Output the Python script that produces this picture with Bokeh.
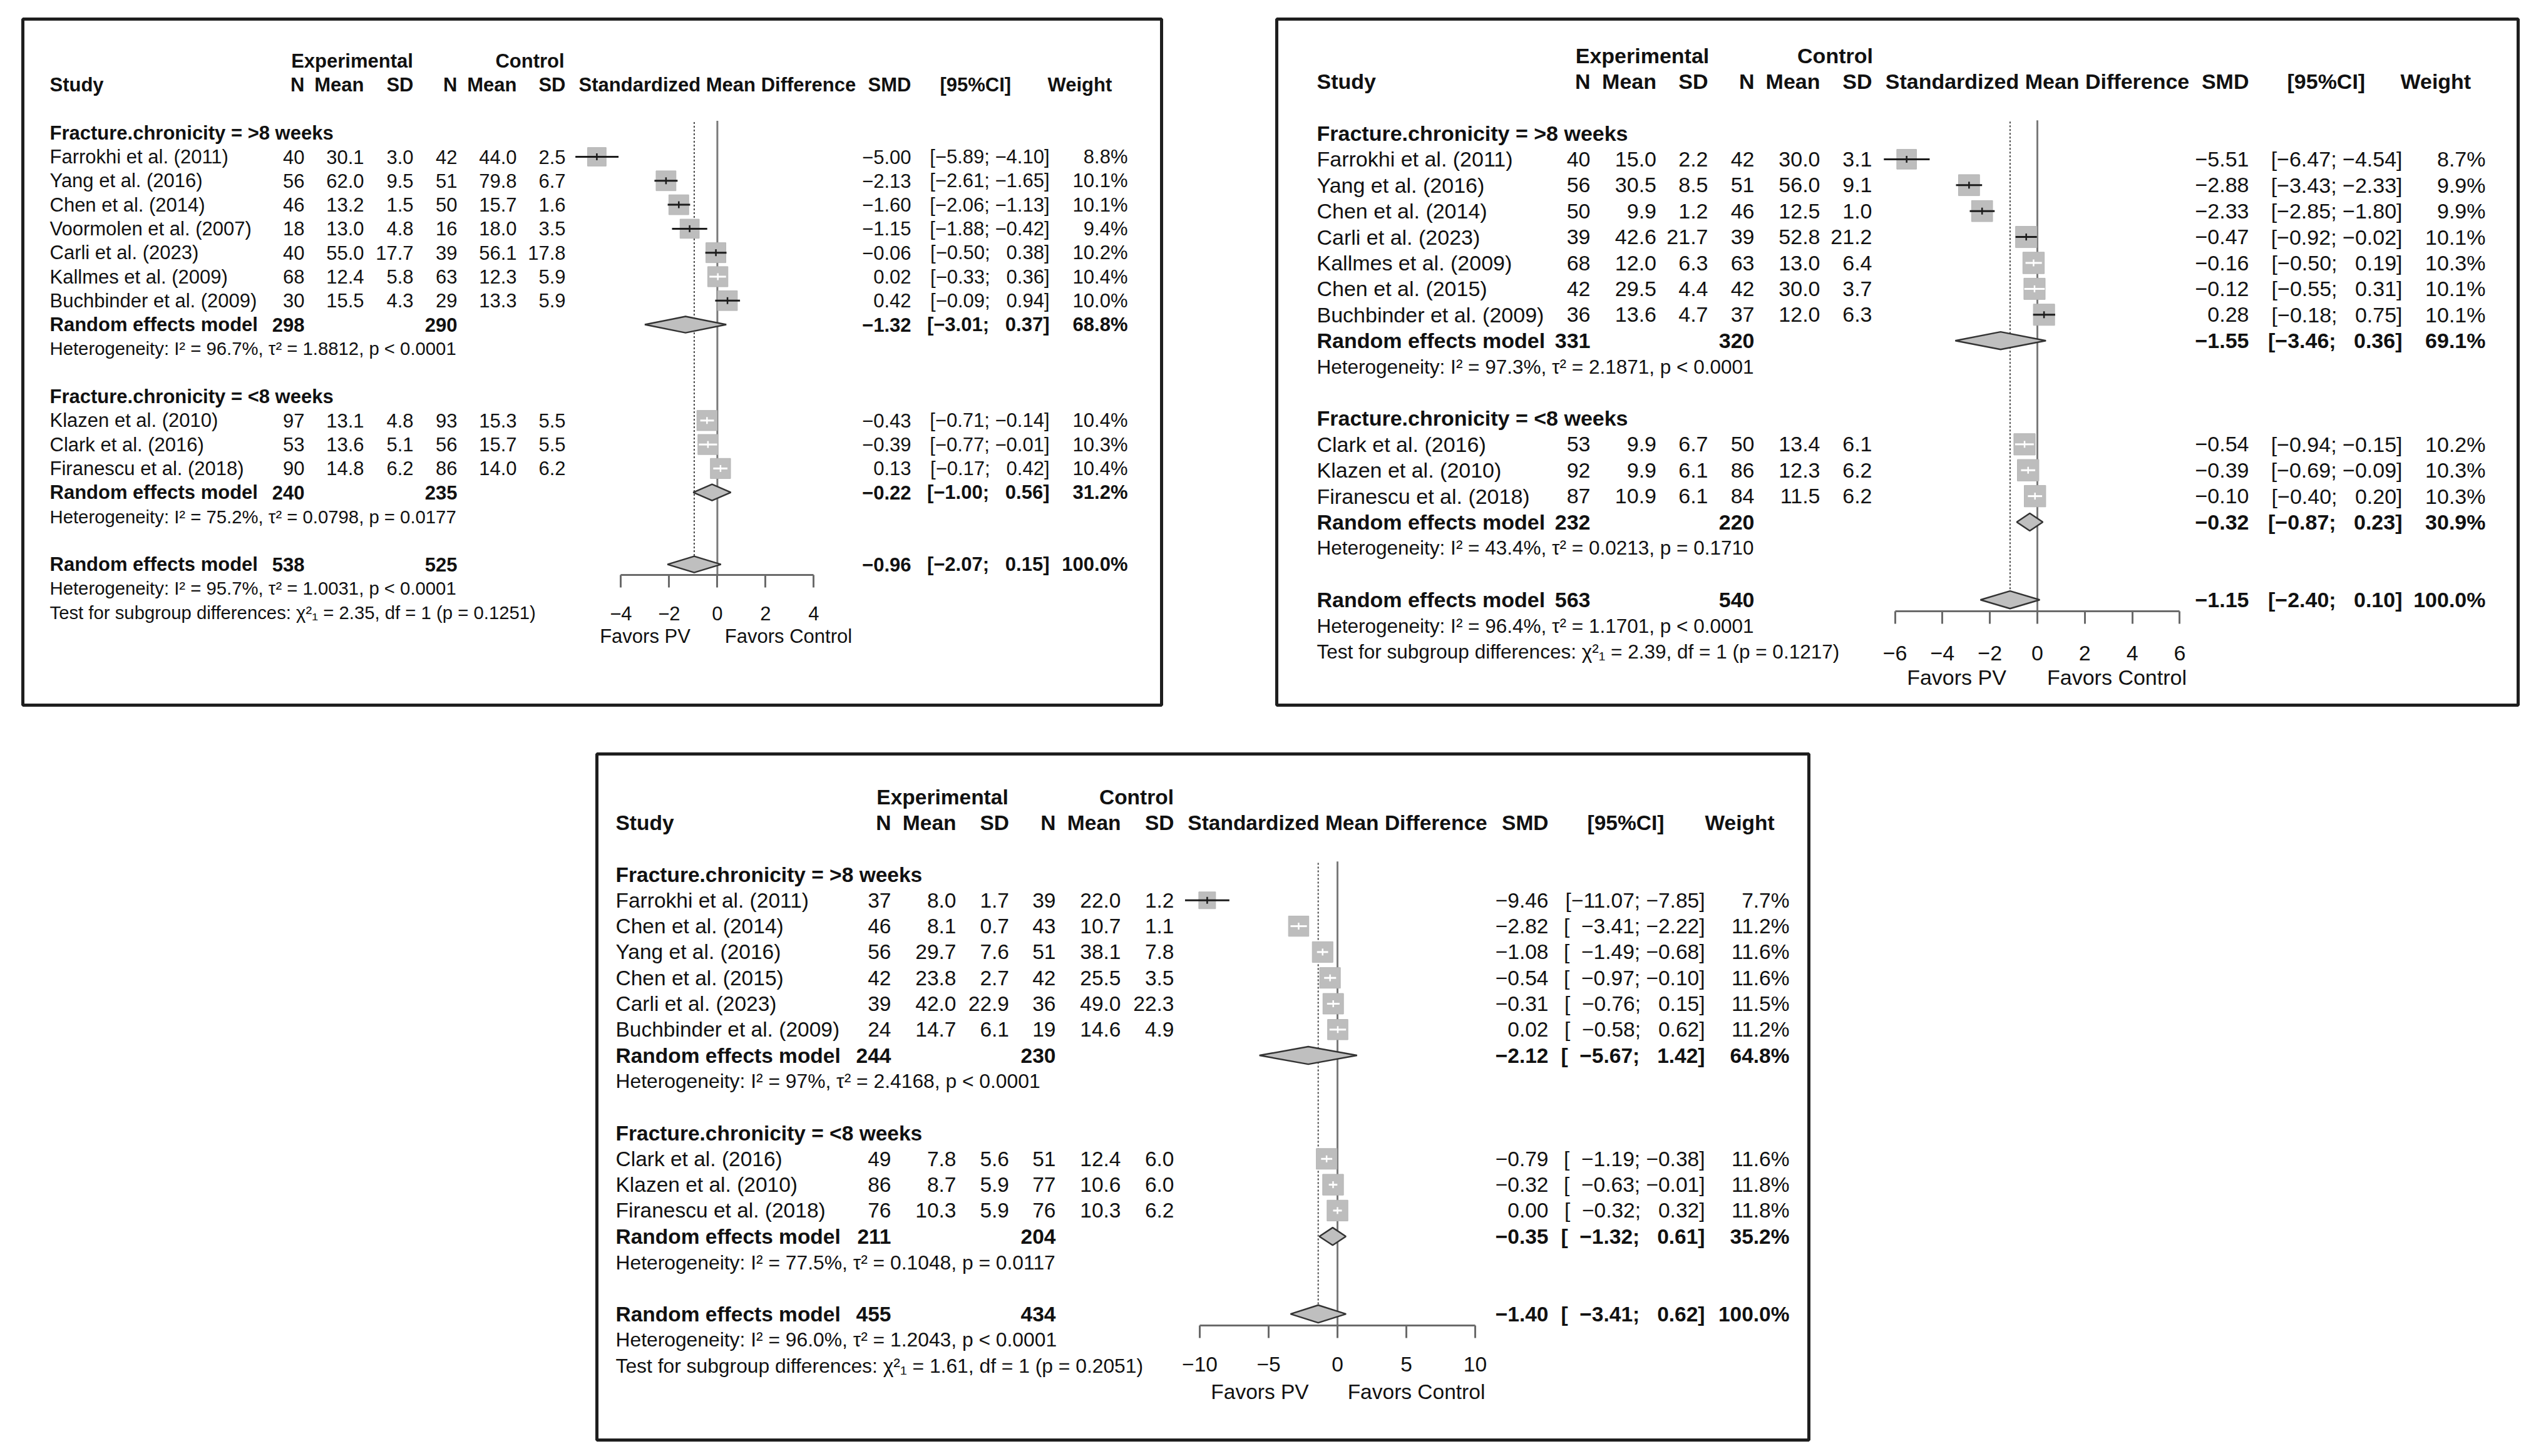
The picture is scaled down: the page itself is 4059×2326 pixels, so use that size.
import numpy as np
from bokeh.plotting import figure
from bokeh.models import Range1d, LinearAxis, FixedTicker, ColumnDataSource, Spacer
from bokeh.layouts import row, column
from bokeh.core.properties import value, field
from bokeh.embed import file_html
from bokeh.resources import INLINE

MINUS = "\u2212"
FIGSP = "\u2007"
GROUPS = ["Fracture.chronicity = >8 weeks", "Fracture.chronicity = <8 weeks"]

# ---------------- Panel A (top left) ----------------
A_g1_study = ["Farrokhi et al. (2011)", "Yang et al. (2016)", "Chen et al. (2014)", "Voormolen et al. (2007)",
              "Carli et al. (2023)", "Kallmes et al. (2009)", "Buchbinder et al. (2009)"]
A_g1_eN = [40, 56, 46, 18, 40, 68, 30]
A_g1_eMean = [30.1, 62.0, 13.2, 13.0, 55.0, 12.4, 15.5]
A_g1_eSD = [3.0, 9.5, 1.5, 4.8, 17.7, 5.8, 4.3]
A_g1_cN = [42, 51, 50, 16, 39, 63, 29]
A_g1_cMean = [44.0, 79.8, 15.7, 18.0, 56.1, 12.3, 13.3]
A_g1_cSD = [2.5, 6.7, 1.6, 3.5, 17.8, 5.9, 5.9]
A_g1_smd = [-5.00, -2.13, -1.60, -1.15, -0.06, 0.02, 0.42]
A_g1_lo = [-5.89, -2.61, -2.06, -1.88, -0.50, -0.33, -0.09]
A_g1_hi = [-4.10, -1.65, -1.13, -0.42, 0.38, 0.36, 0.94]
A_g1_w = [8.8, 10.1, 10.1, 9.4, 10.2, 10.4, 10.0]

A_g2_study = ["Klazen et al. (2010)", "Clark et al. (2016)", "Firanescu et al. (2018)"]
A_g2_eN = [97, 53, 90]
A_g2_eMean = [13.1, 13.6, 14.8]
A_g2_eSD = [4.8, 5.1, 6.2]
A_g2_cN = [93, 56, 86]
A_g2_cMean = [15.3, 15.7, 14.0]
A_g2_cSD = [5.5, 5.5, 6.2]
A_g2_smd = [-0.43, -0.39, 0.13]
A_g2_lo = [-0.71, -0.77, -0.17]
A_g2_hi = [-0.14, -0.01, 0.42]
A_g2_w = [10.4, 10.3, 10.4]

A_sub_eN = [298, 240]
A_sub_cN = [290, 235]
A_sub_smd = [-1.32, -0.22]
A_sub_lo = [-3.01, -1.00]
A_sub_hi = [0.37, 0.56]
A_sub_w = [68.8, 31.2]
A_sub_het = ["I\u00b2 = 96.7%, \u03c4\u00b2 = 1.8812, p < 0.0001", "I\u00b2 = 75.2%, \u03c4\u00b2 = 0.0798, p = 0.0177"]
A_all = [538, 525, -0.96, -2.07, 0.15, 100.0]
A_all_het = "I\u00b2 = 95.7%, \u03c4\u00b2 = 1.0031, p < 0.0001"
A_test = "\u03c7\u00b2\u2081 = 2.35, df = 1 (p = 0.1251)"
A_ticks = [-4, -2, 0, 2, 4]

# ---------------- Panel B (top right) ----------------
B_g1_study = ["Farrokhi et al. (2011)", "Yang et al. (2016)", "Chen et al. (2014)", "Carli et al. (2023)",
              "Kallmes et al. (2009)", "Chen et al. (2015)", "Buchbinder et al. (2009)"]
B_g1_eN = [40, 56, 50, 39, 68, 42, 36]
B_g1_eMean = [15.0, 30.5, 9.9, 42.6, 12.0, 29.5, 13.6]
B_g1_eSD = [2.2, 8.5, 1.2, 21.7, 6.3, 4.4, 4.7]
B_g1_cN = [42, 51, 46, 39, 63, 42, 37]
B_g1_cMean = [30.0, 56.0, 12.5, 52.8, 13.0, 30.0, 12.0]
B_g1_cSD = [3.1, 9.1, 1.0, 21.2, 6.4, 3.7, 6.3]
B_g1_smd = [-5.51, -2.88, -2.33, -0.47, -0.16, -0.12, 0.28]
B_g1_lo = [-6.47, -3.43, -2.85, -0.92, -0.50, -0.55, -0.18]
B_g1_hi = [-4.54, -2.33, -1.80, -0.02, 0.19, 0.31, 0.75]
B_g1_w = [8.7, 9.9, 9.9, 10.1, 10.3, 10.1, 10.1]

B_g2_study = ["Clark et al. (2016)", "Klazen et al. (2010)", "Firanescu et al. (2018)"]
B_g2_eN = [53, 92, 87]
B_g2_eMean = [9.9, 9.9, 10.9]
B_g2_eSD = [6.7, 6.1, 6.1]
B_g2_cN = [50, 86, 84]
B_g2_cMean = [13.4, 12.3, 11.5]
B_g2_cSD = [6.1, 6.2, 6.2]
B_g2_smd = [-0.54, -0.39, -0.10]
B_g2_lo = [-0.94, -0.69, -0.40]
B_g2_hi = [-0.15, -0.09, 0.20]
B_g2_w = [10.2, 10.3, 10.3]

B_sub_eN = [331, 232]
B_sub_cN = [320, 220]
B_sub_smd = [-1.55, -0.32]
B_sub_lo = [-3.46, -0.87]
B_sub_hi = [0.36, 0.23]
B_sub_w = [69.1, 30.9]
B_sub_het = ["I\u00b2 = 97.3%, \u03c4\u00b2 = 2.1871, p < 0.0001", "I\u00b2 = 43.4%, \u03c4\u00b2 = 0.0213, p = 0.1710"]
B_all = [563, 540, -1.15, -2.40, 0.10, 100.0]
B_all_het = "I\u00b2 = 96.4%, \u03c4\u00b2 = 1.1701, p < 0.0001"
B_test = "\u03c7\u00b2\u2081 = 2.39, df = 1 (p = 0.1217)"
B_ticks = [-6, -4, -2, 0, 2, 4, 6]

# ---------------- Panel C (bottom) ----------------
C_g1_study = ["Farrokhi et al. (2011)", "Chen et al. (2014)", "Yang et al. (2016)", "Chen et al. (2015)",
              "Carli et al. (2023)", "Buchbinder et al. (2009)"]
C_g1_eN = [37, 46, 56, 42, 39, 24]
C_g1_eMean = [8.0, 8.1, 29.7, 23.8, 42.0, 14.7]
C_g1_eSD = [1.7, 0.7, 7.6, 2.7, 22.9, 6.1]
C_g1_cN = [39, 43, 51, 42, 36, 19]
C_g1_cMean = [22.0, 10.7, 38.1, 25.5, 49.0, 14.6]
C_g1_cSD = [1.2, 1.1, 7.8, 3.5, 22.3, 4.9]
C_g1_smd = [-9.46, -2.82, -1.08, -0.54, -0.31, 0.02]
C_g1_lo = [-11.07, -3.41, -1.49, -0.97, -0.76, -0.58]
C_g1_hi = [-7.85, -2.22, -0.68, -0.10, 0.15, 0.62]
C_g1_w = [7.7, 11.2, 11.6, 11.6, 11.5, 11.2]

C_g2_study = ["Clark et al. (2016)", "Klazen et al. (2010)", "Firanescu et al. (2018)"]
C_g2_eN = [49, 86, 76]
C_g2_eMean = [7.8, 8.7, 10.3]
C_g2_eSD = [5.6, 5.9, 5.9]
C_g2_cN = [51, 77, 76]
C_g2_cMean = [12.4, 10.6, 10.3]
C_g2_cSD = [6.0, 6.0, 6.2]
C_g2_smd = [-0.79, -0.32, 0.00]
C_g2_lo = [-1.19, -0.63, -0.32]
C_g2_hi = [-0.38, -0.01, 0.32]
C_g2_w = [11.6, 11.8, 11.8]

C_sub_eN = [244, 211]
C_sub_cN = [230, 204]
C_sub_smd = [-2.12, -0.35]
C_sub_lo = [-5.67, -1.32]
C_sub_hi = [1.42, 0.61]
C_sub_w = [64.8, 35.2]
C_sub_het = ["I\u00b2 = 97%, \u03c4\u00b2 = 2.4168, p < 0.0001", "I\u00b2 = 77.5%, \u03c4\u00b2 = 0.1048, p = 0.0117"]
C_all = [455, 434, -1.40, -3.41, 0.62, 100.0]
C_all_het = "I\u00b2 = 96.0%, \u03c4\u00b2 = 1.2043, p < 0.0001"
C_test = "\u03c7\u00b2\u2081 = 1.61, df = 1 (p = 0.2051)"
C_ticks = [-10, -5, 0, 5, 10]


def grp(study, eN, eMean, eSD, cN, cMean, cSD, smd, lo, hi, w):
    return dict(study=study, eN=eN, eMean=eMean, eSD=eSD, cN=cN, cMean=cMean, cSD=cSD,
                smd=smd, lo=lo, hi=hi, w=w)


DATA_A = dict(groups=[grp(A_g1_study, A_g1_eN, A_g1_eMean, A_g1_eSD, A_g1_cN, A_g1_cMean, A_g1_cSD, A_g1_smd, A_g1_lo, A_g1_hi, A_g1_w),
                      grp(A_g2_study, A_g2_eN, A_g2_eMean, A_g2_eSD, A_g2_cN, A_g2_cMean, A_g2_cSD, A_g2_smd, A_g2_lo, A_g2_hi, A_g2_w)],
              sub=dict(eN=A_sub_eN, cN=A_sub_cN, smd=A_sub_smd, lo=A_sub_lo, hi=A_sub_hi, w=A_sub_w, het=A_sub_het),
              all=A_all, all_het=A_all_het, test=A_test, ticks=A_ticks)
DATA_B = dict(groups=[grp(B_g1_study, B_g1_eN, B_g1_eMean, B_g1_eSD, B_g1_cN, B_g1_cMean, B_g1_cSD, B_g1_smd, B_g1_lo, B_g1_hi, B_g1_w),
                      grp(B_g2_study, B_g2_eN, B_g2_eMean, B_g2_eSD, B_g2_cN, B_g2_cMean, B_g2_cSD, B_g2_smd, B_g2_lo, B_g2_hi, B_g2_w)],
              sub=dict(eN=B_sub_eN, cN=B_sub_cN, smd=B_sub_smd, lo=B_sub_lo, hi=B_sub_hi, w=B_sub_w, het=B_sub_het),
              all=B_all, all_het=B_all_het, test=B_test, ticks=B_ticks)
DATA_C = dict(groups=[grp(C_g1_study, C_g1_eN, C_g1_eMean, C_g1_eSD, C_g1_cN, C_g1_cMean, C_g1_cSD, C_g1_smd, C_g1_lo, C_g1_hi, C_g1_w),
                      grp(C_g2_study, C_g2_eN, C_g2_eMean, C_g2_eSD, C_g2_cN, C_g2_cMean, C_g2_cSD, C_g2_smd, C_g2_lo, C_g2_hi, C_g2_w)],
              sub=dict(eN=C_sub_eN, cN=C_sub_cN, smd=C_sub_smd, lo=C_sub_lo, hi=C_sub_hi, w=C_sub_w, het=C_sub_het),
              all=C_all, all_het=C_all_het, test=C_test, ticks=C_ticks)

# layout (pixel positions inside each panel box)
LAY_A = dict(W=1825, H=1102, row0=223.0, rowh=38.3, F=31, FS=29.3, standoff=30,
             study=46, eN=453, eMean=548, eSD=627, cN=697, cMean=792, cSD=870, exp_hdr=529, ctl_hdr=813,
             smd_r=1422, ci_hdr=1468, ci_r=1643, w_hdr=1640, w_r=1768, zero=1112.4, scale=38.5,
             fav_l=997, fav_r=1226, box_k=10.0)
LAY_B = dict(W=1989, H=1102, row0=226.9, rowh=41.4, F=34, FS=31.5, standoff=35,
             study=67, eN=504, eMean=609.5, eSD=692, cN=766, cMean=871, cSD=954, exp_hdr=587, ctl_hdr=895,
             smd_r=1556, ci_hdr=1617, ci_r=1801, w_hdr=1798, w_r=1934, zero=1218, scale=37.9,
             fav_l=1089, fav_r=1345, box_k=10.7)
LAY_C = dict(W=1942, H=1102, row0=236.8, rowh=41.3, F=33.5, FS=31.8, standoff=30,
             study=33, eN=473, eMean=577, eSD=661.5, cN=736, cMean=840, cSD=925, exp_hdr=555, ctl_hdr=865,
             smd_r=1523, ci_hdr=1585, ci_r=1773, w_hdr=1773, w_r=1908, zero=1186, scale=22.0,
             fav_l=1062, fav_r=1312, box_k=9.7)

FONT = "Liberation Sans"
TXT = "#111111"


def fnum(v, d=2):
    s = f"{abs(v):.{d}f}"
    return (MINUS + s) if v < 0 else s


def build(D, L):
    W, H, rh, r0 = L["W"], L["H"], L["rowh"], L["row0"]
    m = 3
    z, s = L["zero"], L["scale"]
    p = figure(width=W, height=H, x_range=Range1d(m, W - m),
               y_range=Range1d((H - m - r0) / rh, (m - r0) / rh),
               x_axis_type=None, y_axis_type=None, toolbar_location=None,
               output_backend="svg", min_border=m)
    p.extra_x_ranges = {"smd": Range1d((m - z) / s, (W - m - z) / s)}
    p.outline_line_color = "#1e1e1e"
    p.outline_line_width = 5
    p.background_fill_color = "white"
    p.border_fill_color = "white"

    g1, g2 = D["groups"]
    n1, n2 = len(g1["study"]), len(g2["study"])
    rows_g = [list(range(0, n1)), list(range(n1 + 4, n1 + 4 + n2))]
    hdr_rows = [-1, n1 + 3]
    sub_rows = [n1, n1 + n2 + 4]
    het_rows = [n1 + 1, n1 + n2 + 5]
    r_all = n1 + n2 + 7
    ax_row = r_all + 0.45

    sub = D["sub"]
    eN_all, cN_all, smd_all, lo_all, hi_all, w_all = D["all"]

    # CI strings padded like R's formatCI (figure spaces keep the padding visible)
    lo_list = g1["lo"] + g2["lo"] + sub["lo"] + [lo_all]
    hi_list = g1["hi"] + g2["hi"] + sub["hi"] + [hi_all]
    ls = [fnum(v) for v in lo_list]
    hs = [fnum(v) for v in hi_list]
    wl, wh = max(len(x) for x in ls), max(len(x) for x in hs)
    cis = ["[" + a.rjust(wl, FIGSP) + "; " + b.rjust(wh, FIGSP) + "]" for a, b in zip(ls, hs)]
    ci_g1 = cis[:n1]
    ci_g2 = cis[n1:n1 + n2]
    ci_sub = cis[n1 + n2:n1 + n2 + 2]
    ci_all = cis[-1]

    F, FS = f"{L['F']}px", f"{L['FS']}px"
    T = dict(x=[], y=[], text=[], align=[], style=[], size=[])

    def add(x, y, t, a="left", st="normal", sz=F):
        T["x"].append(x); T["y"].append(y); T["text"].append(t)
        T["align"].append(a); T["style"].append(st); T["size"].append(sz)

    add(L["exp_hdr"], -4, "Experimental", "center", "bold")
    add(L["ctl_hdr"], -4, "Control", "center", "bold")
    add(L["study"], -3, "Study", "left", "bold")
    for k, t in (("eN", "N"), ("eMean", "Mean"), ("eSD", "SD"), ("cN", "N"), ("cMean", "Mean"), ("cSD", "SD")):
        add(L[k], -3, t, "right", "bold")
    add(L["smd_r"], -3, "SMD", "right", "bold")
    add(L["ci_hdr"], -3, "[95%CI]", "left", "bold")
    add(L["w_hdr"], -3, "Weight", "left", "bold")

    ci_groups = [ci_g1, ci_g2]
    for gi, g in enumerate(D["groups"]):
        add(L["study"], hdr_rows[gi], GROUPS[gi], "left", "bold")
        for i, r in enumerate(rows_g[gi]):
            add(L["study"], r, g["study"][i])
            add(L["eN"], r, str(g["eN"][i]), "right")
            add(L["eMean"], r, f"{g['eMean'][i]:.1f}", "right")
            add(L["eSD"], r, f"{g['eSD'][i]:.1f}", "right")
            add(L["cN"], r, str(g["cN"][i]), "right")
            add(L["cMean"], r, f"{g['cMean'][i]:.1f}", "right")
            add(L["cSD"], r, f"{g['cSD'][i]:.1f}", "right")
            add(L["smd_r"], r, fnum(g["smd"][i]), "right")
            add(L["ci_r"], r, ci_groups[gi][i], "right")
            add(L["w_r"], r, f"{g['w'][i]:.1f}%", "right")
        r = sub_rows[gi]
        add(L["study"], r, "Random effects model", "left", "bold")
        add(L["eN"], r, str(sub["eN"][gi]), "right", "bold")
        add(L["cN"], r, str(sub["cN"][gi]), "right", "bold")
        add(L["smd_r"], r, fnum(sub["smd"][gi]), "right", "bold")
        add(L["ci_r"], r, ci_sub[gi], "right", "bold")
        add(L["w_r"], r, f"{sub['w'][gi]:.1f}%", "right", "bold")
        add(L["study"], het_rows[gi], "Heterogeneity: " + sub["het"][gi], "left", "normal", FS)

    add(L["study"], r_all, "Random effects model", "left", "bold")
    add(L["eN"], r_all, str(eN_all), "right", "bold")
    add(L["cN"], r_all, str(cN_all), "right", "bold")
    add(L["smd_r"], r_all, fnum(smd_all), "right", "bold")
    add(L["ci_r"], r_all, ci_all, "right", "bold")
    add(L["w_r"], r_all, f"{w_all:.1f}%", "right", "bold")
    add(L["study"], r_all + 1, "Heterogeneity: " + D["all_het"], "left", "normal", FS)
    add(L["study"], r_all + 2, "Test for subgroup differences: " + D["test"], "left", "normal", FS)
    add(L["fav_l"], r_all + 3, "Favors PV", "center")
    add(L["fav_r"], r_all + 3, "Favors Control", "center")

    # reference lines
    p.segment(x0=[0], y0=[-1.5], x1=[0], y1=[ax_row], line_color="#7a7a7a", line_width=3,
              x_range_name="smd")
    p.segment(x0=[smd_all], y0=[-1.45], x1=[smd_all], y1=[r_all], line_color="#4a4a4a",
              line_width=2, line_dash="3 3", x_range_name="smd")

    # study squares and CIs
    est = np.array(g1["smd"] + g2["smd"])
    lo = np.array(g1["lo"] + g2["lo"])
    hi = np.array(g1["hi"] + g2["hi"])
    w = np.array(g1["w"] + g2["w"])
    rr = np.array(rows_g[0] + rows_g[1], dtype=float)
    side = L["box_k"] * np.sqrt(w)
    half = side / 2.0 / s
    inside = (lo > est - half) & (hi < est + half)
    col = ["white" if f else "#1c1c1c" for f in inside]
    src = ColumnDataSource(dict(est=est, lo=lo, hi=hi, row=rr, side=side, col=col))
    p.scatter(x="est", y="row", size="side", marker="square", fill_color="#bdbdbd",
              line_color="#b5b5b5", line_width=1, source=src, x_range_name="smd")
    p.segment(x0="lo", y0="row", x1="hi", y1="row", line_color="col", line_width=3,
              source=src, x_range_name="smd")
    p.scatter(x="est", y="row", marker="dash", angle=np.pi / 2, size=11, line_color="col",
              line_width=2.5, source=src, x_range_name="smd")

    # diamonds
    dh = 0.34
    d_est = sub["smd"] + [smd_all]
    d_lo = sub["lo"] + [lo_all]
    d_hi = sub["hi"] + [hi_all]
    d_row = sub_rows + [r_all]
    xs = [[a, e, b, e] for a, e, b in zip(d_lo, d_est, d_hi)]
    ys = [[r, r - dh, r, r + dh] for r in d_row]
    p.patches(xs=xs, ys=ys, fill_color="#bfbfbf", line_color="#333333", line_width=2.5,
              x_range_name="smd")

    # texts
    p.text(x="x", y="y", text="text", source=ColumnDataSource(T),
           text_align=field("align"), text_font_style=field("style"),
           text_font_size=field("size"), text_baseline=value("middle"),
           text_font=value(FONT), text_color=TXT)
    p.text(x=[0], y=[-3], text=["Standardized Mean Difference"], x_range_name="smd",
           text_align=value("center"), text_font_style=value("bold"), text_font_size=value(F),
           text_baseline=value("middle"), text_font=value(FONT), text_color=TXT)

    # axis
    ticks = D["ticks"]
    ax = LinearAxis(x_range_name="smd", fixed_location=ax_row, bounds=(ticks[0], ticks[-1]),
                    ticker=FixedTicker(ticks=ticks),
                    major_label_overrides={t: fnum(t, 0) for t in ticks})
    ax.axis_line_color = "#6a6a6a"
    ax.axis_line_width = 3
    ax.major_tick_line_color = "#6a6a6a"
    ax.major_tick_line_width = 3
    ax.major_tick_in = 0
    ax.major_tick_out = 20
    ax.minor_tick_line_color = None
    ax.major_label_text_font = FONT
    ax.major_label_text_font_size = F
    ax.major_label_text_color = TXT
    ax.major_label_standoff = L["standoff"]
    p.add_layout(ax, "below")
    return p


pA = build(DATA_A, LAY_A)
pB = build(DATA_B, LAY_B)
pC = build(DATA_C, LAY_C)

lay = column(
    Spacer(width=10, height=27),
    row(Spacer(width=33, height=10), pA, Spacer(width=178, height=10), pB),
    Spacer(width=10, height=72),
    row(Spacer(width=950, height=10), pC),
)

open("out.html", "w").write(file_html(lay, INLINE))
